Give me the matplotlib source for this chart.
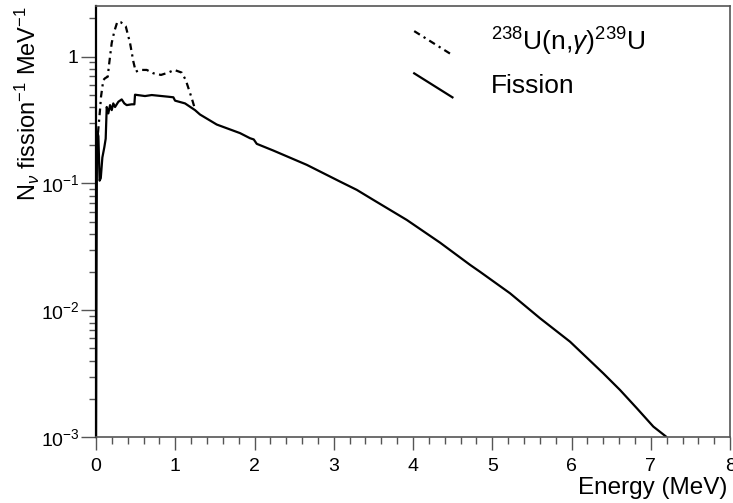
import matplotlib
matplotlib.use("Agg")
import matplotlib.pyplot as plt
from matplotlib.legend_handler import HandlerBase
from matplotlib.lines import Line2D
from matplotlib.ticker import FuncFormatter, LogLocator, MultipleLocator
import numpy as np

plt.rcParams['font.family'] = ['Liberation Sans', 'DejaVu Sans']
plt.rcParams['mathtext.fontset'] = 'custom'
plt.rcParams['mathtext.rm'] = 'Liberation Sans'
plt.rcParams['mathtext.it'] = 'Liberation Sans:italic'

# fission antineutrino spectrum
fission_e = [0.0, 0.006, 0.012, 0.02, 0.03, 0.045, 0.06, 0.08, 0.105, 0.122,
             0.135, 0.155, 0.177, 0.198, 0.218, 0.24, 0.282, 0.324, 0.357, 0.387,
             0.45, 0.484, 0.492, 0.618, 0.703, 0.912, 0.976, 0.997, 1.123, 1.249,
             1.312, 1.523, 1.817, 1.943, 1.99, 2.028, 2.237, 2.659, 3.079, 3.290,
             3.499, 3.921, 4.341, 4.719, 4.845, 5.224, 5.602, 5.981, 6.401, 6.612,
             6.823, 7.032, 7.192, 7.25]
fission_n = [0.001, 0.02, 0.24, 0.25, 0.235, 0.105, 0.11, 0.16, 0.193, 0.225,
             0.40, 0.356, 0.414, 0.378, 0.427, 0.40, 0.44, 0.459, 0.427, 0.414,
             0.42, 0.42, 0.50, 0.488, 0.497, 0.482, 0.477, 0.449, 0.427, 0.378,
             0.349, 0.291, 0.249, 0.227, 0.222, 0.205, 0.1815, 0.140, 0.1033, 0.0889,
             0.0741, 0.0515, 0.0341, 0.0228, 0.0201, 0.0136, 0.00865, 0.00565, 0.00318, 0.00235,
             0.00169, 0.00121, 0.00101, 0.0009]

# 238U(n,gamma)239U contribution added on top, low energy part
capture_e = [0.025, 0.05, 0.063, 0.092, 0.114, 0.148, 0.164, 0.198, 0.231, 0.269,
             0.315, 0.375, 0.429, 0.471, 0.501, 0.555, 0.640, 0.723, 0.820, 0.912,
             0.988, 1.081, 1.132, 1.174, 1.208, 1.249]
capture_n = [0.25, 0.378, 0.482, 0.653, 0.674, 0.694, 0.859, 1.28, 1.58, 1.88,
             1.86, 1.73, 1.28, 0.913, 0.760, 0.784, 0.784, 0.738, 0.716, 0.747,
             0.784, 0.747, 0.653, 0.544, 0.468, 0.385]

legend_labels = [r"$^{238}$U(n,$\gamma$)$^{239}$U", "Fission"]


class DiagonalHandler(HandlerBase):
    # ROOT-like legend: the sample line is drawn on a slant
    def create_artists(self, legend, orig_handle, xdescent, ydescent,
                       width, height, fontsize, trans):
        line = Line2D([-xdescent, -xdescent + width],
                      [-ydescent + height * 1.05, -ydescent - height * 0.25])
        line.update_from(orig_handle)
        line.set_transform(trans)
        return [line]


def fmt_y(v, pos):
    e = int(round(np.log10(v)))
    if e == 0:
        return r"$1\ \ \ $"
    return r"$10^{%d}$" % e


fig = plt.figure(figsize=(7.33, 5.03), dpi=100)
ax = fig.add_axes([0.131, 0.131, 0.865, 0.857])

cap, = ax.plot(capture_e, capture_n, color='black', lw=1.6,
               linestyle=(0, (3, 2, 1, 2)))
fis, = ax.plot(fission_e, fission_n, color='black', lw=1.6)

ax.set_yscale('log')
ax.set_xlim(0, 8)
ax.set_ylim(1e-3, 2.5)

ax.xaxis.set_major_locator(MultipleLocator(1))
ax.xaxis.set_minor_locator(MultipleLocator(0.2))
ax.yaxis.set_major_locator(LogLocator(base=10))
ax.yaxis.set_minor_locator(LogLocator(base=10, subs=np.arange(2, 10)))
ax.yaxis.set_major_formatter(FuncFormatter(fmt_y))
ax.yaxis.set_minor_formatter(FuncFormatter(lambda v, p: ""))

ax.tick_params(axis='x', which='major', direction='out', length=9.4, width=1,
               color='#555555', labelsize=14, pad=6)
ax.tick_params(axis='x', which='minor', direction='out', length=5, width=1,
               color='#555555')
ax.tick_params(axis='y', which='major', direction='out', length=11, width=1,
               color='#555555', labelsize=14, pad=1)
ax.tick_params(axis='y', which='minor', direction='out', length=5, width=1,
               color='#555555')
for s in ['top', 'right', 'bottom']:
    ax.spines[s].set_color('#555555')
    ax.spines[s].set_linewidth(1.2)
ax.spines['left'].set_color('black')
ax.spines['left'].set_linewidth(1.6)

ax.set_xlabel("Energy (MeV)", fontsize=17.5, loc='right')
ax.xaxis.set_label_coords(0.995, -0.093)
ax.set_ylabel(r"N$_{\nu}$ fission$^{-1}$ MeV$^{-1}$", fontsize=17, loc='top')
ax.yaxis.set_label_coords(-0.085, 1.0)

ax.legend([cap, fis], legend_labels, loc='upper left',
          bbox_to_anchor=(0.481, 0.985), frameon=False, fontsize=19,
          handlelength=1.45, handletextpad=1.45, labelspacing=0.6, borderpad=0,
          handler_map={Line2D: DiagonalHandler()})

fig.savefig("out.png", dpi=100)
